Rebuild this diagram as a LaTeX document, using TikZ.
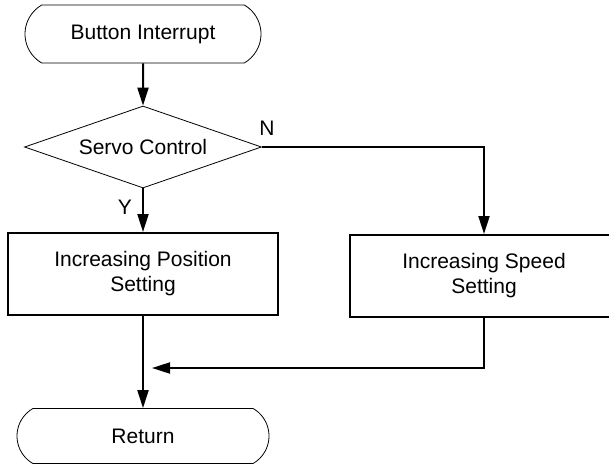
\documentclass[tikz,border=0pt]{standalone}
\usepackage{fontspec}
\setmainfont{Liberation Sans}
\usetikzlibrary{shapes.geometric}
\usetikzlibrary{shapes.misc}
\usetikzlibrary{arrows.meta}
\tikzset{
terminal/.style={ % Start and end of the routine
rounded rectangle,
rounded rectangle arc length=120,
draw, thin,
inner sep=0pt},
decision/.style={ % Branching on the mode
diamond, draw, thin,
aspect=2.9,
inner sep=0pt,
minimum width=118.5pt,
minimum height=41pt},
process/.style={ % Setting boxes
rectangle, draw,
line width=1pt,
align=center,
minimum width=135pt,
minimum height=41pt},
flow/.style={ % Connectors with filled heads
draw,
line width=1pt,
-{Triangle[length=9pt,width=5.5pt]}}}

\begin{document}
\begin{tikzpicture}[x=0.5pt, y=-0.5pt, every node/.style={font=\fontsize{10.5}{12.5}\selectfont}]
\useasboundingbox (0,0) rectangle (609,465);
\node[terminal, minimum width=118pt, minimum height=29pt] (start) at (143,34) {Button Interrupt};
\node[decision] (servo) at (143,147) {\raisebox{-2pt}{Servo Control}};
\node[process] (pos) at (143,274) {Increasing Position\\Setting};
\node[process, minimum width=134pt] (speed) at (484,276) {Increasing Speed\\Setting};
\node[terminal, minimum width=126pt, minimum height=27.5pt] (ret) at (143,436) {Return};
\coordinate (merge) at (152,368);
\draw[flow] (start) -- (servo);
\draw[flow] (servo.east) -| (speed.north);
\draw[flow] (servo.south) -- (pos.north);
\draw[flow] (pos.south) -- (ret.north);
\draw[flow] (speed.south) |- (merge);
\node (no) at (267,128) {N};
\node (yes) at (125,207) {Y};
\end{tikzpicture}
\end{document}
